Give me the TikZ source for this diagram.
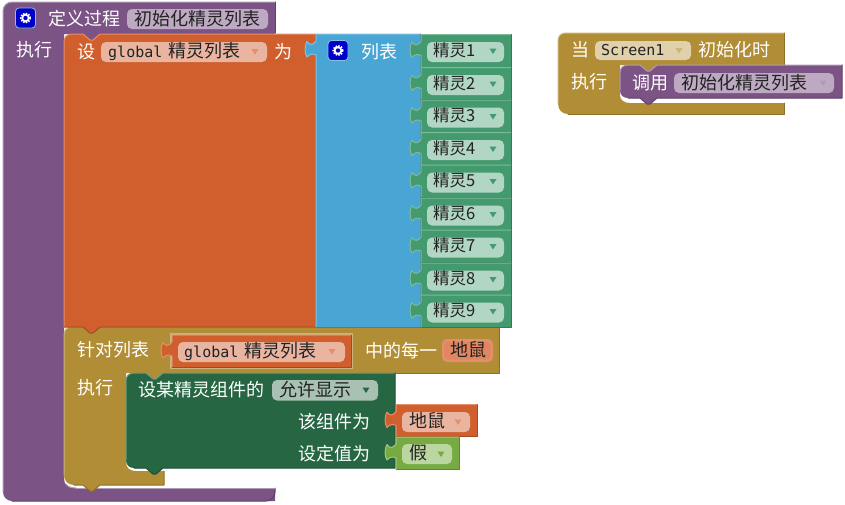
\documentclass[tikz,border=0pt]{standalone}
\usepackage{fontspec}
\setmainfont{Noto Sans CJK SC}
\newfontfamily\latf{DejaVu Sans Mono}
\definecolor{pu}{HTML}{7C5385}\definecolor{puL}{HTML}{B09BB6}\definecolor{puD}{HTML}{5F3F66}\definecolor{puF}{HTML}{BDA9C2}
\definecolor{or}{HTML}{D05F2D}\definecolor{orL}{HTML}{E38E6C}\definecolor{orD}{HTML}{A34A22}\definecolor{orF}{HTML}{E9B5A0}
\definecolor{bl}{HTML}{49A6D4}\definecolor{blL}{HTML}{7FC2E3}\definecolor{blD}{HTML}{3985AA}
\definecolor{sg}{HTML}{439A6E}\definecolor{sgL}{HTML}{7DBA9A}\definecolor{sgD}{HTML}{337A56}\definecolor{sgF}{HTML}{B2D6C4}
\definecolor{go}{HTML}{B18E35}\definecolor{goL}{HTML}{CCB57C}\definecolor{goD}{HTML}{8D712A}\definecolor{goF}{HTML}{E0D1AC}
\definecolor{dg}{HTML}{266643}\definecolor{dgL}{HTML}{6B9A80}\definecolor{dgD}{HTML}{1C4E33}\definecolor{dgF}{HTML}{A8C1B3}
\definecolor{bo}{HTML}{77AB41}\definecolor{boL}{HTML}{A3C77F}\definecolor{boD}{HTML}{5E8933}\definecolor{boF}{HTML}{BBD6A0}
\definecolor{ink}{HTML}{222222}\definecolor{gearblue}{HTML}{0000C8}
\tikzset{
 lbl/.style={inner sep=0pt,anchor=west,yshift=-.7pt,font=\fontsize{18}{18}\selectfont,text=white},
 fld/.style={inner sep=0pt,anchor=west,font=\fontsize{18}{18}\selectfont,text=ink},
 spr/.style={inner sep=0pt,anchor=west,font=\fontsize{16.5}{18}\selectfont,text=ink},
 ln/.style={line width=1pt,line cap=round,line join=round}
}
\def\tabseg#1#2{-- (#1,#2+7) .. controls (#1-3,#2+11) and (#1-6,#2+12) .. (#1-9,#2+7.5) .. controls (#1-11.5,#2+11) and (#1-11.5,#2+20) .. (#1-9,#2+23) .. controls (#1-6,#2+19.5) and (#1-3,#2+19.5) .. (#1,#2+21)}
\def\tabback#1#2{-- (#1,#2+21) .. controls (#1-3,#2+19.5) and (#1-6,#2+19.5) .. (#1-9,#2+23) .. controls (#1-11.5,#2+20) and (#1-11.5,#2+11) .. (#1-9,#2+7.5) .. controls (#1-6,#2+12) and (#1-3,#2+11) .. (#1,#2+7)}
\def\notchtop#1#2{-- (#1,#2) -- (#1+7,#2+6) -- (#1+10,#2+6) -- (#1+17,#2)}
\def\notchbot#1#2{-- (#1+17,#2) -- (#1+10,#2+6) -- (#1+7,#2+6) -- (#1,#2)}
% value block: x1 y1 x2 y2 base
\newcommand\valblk[5]{%
 \fill[#5] (#1,#2) \tabseg{#1}{#2} -- (#1,#4) -- (#3,#4) -- (#3,#2) -- cycle;
 \draw[ln,#5L] (#1,#4) \tabback{#1}{#2} -- (#1,#2) -- (#3,#2);
 \draw[ln,#5D] (#3,#2) -- (#3,#4) -- (#1,#4);
}
\newcommand\fieldr[5]{\fill[#5,rounded corners=5pt] (#1,#2) rectangle (#3,#4);}
\newcommand\tri[3]{\fill[#3] (#1-3.5,#2-2.5) -- (#1+3.5,#2-2.5) -- (#1,#2+3) -- cycle;}
\newcommand\gearicon[2]{%
 \fill[gearblue,draw=blL,line width=.8pt,rounded corners=3.5pt] (#1-10,#2-10) rectangle (#1+10,#2+10);
 \draw[white,line width=1.6pt,dash pattern=on 1.5pt off 1.3pt] (#1,#2) circle[radius=4.8pt];
 \fill[white] (#1,#2) circle[radius=4.3pt];
 \fill[gearblue] (#1,#2) circle[radius=2.2pt];
}
\begin{document}
\begin{tikzpicture}[x=1pt,y=-1pt]
\useasboundingbox (0,0) rectangle (845,504);
\fill[white] (0,0) rectangle (845,504);
% ---------- procedure block
\fill[pu,rounded corners=9pt] (3,100) -- (3,2) [sharp corners] -- (275,2) -- (275,34) -- (64,34) -- (64,476) [rounded corners=9pt] -- (64,488) [sharp corners] -- (275,488) -- (275,501) [rounded corners=9pt] -- (3,501) -- cycle;
\fill[pu] (83,33) rectangle (100,41);
\draw[ln,puL,rounded corners=9pt] (3,492) -- (3,2) [sharp corners] -- (275,2);
\draw[ln,puD] (275,2) -- (275,33);
\draw[ln,puL] (66,484) .. controls (68,487) and (72,488) .. (76,488);
\draw[ln,puD,rounded corners=9pt] (275,488) -- (275,501) -- (12,501);
\draw[ln,puL] (76,488) -- (275,488);
% ---------- foreach block
\fill[go] (72,327) \notchtop{83}{327} -- (499,327) -- (499,373) -- (126,373) -- (126,462) .. controls (126,468) and (130,471) .. (136,471) -- (164,471) -- (164,485) \notchbot{83}{485} -- (74,485) .. controls (68,485) and (64,481) .. (64,475) -- (64,335) .. controls (64,330) and (67,327) .. (72,327) -- cycle;
\fill[go] (146,372) rectangle (163,380);
\draw[ln,goL] (64,475) -- (64,335) .. controls (64,330) and (67,327) .. (72,327) -- (499,327);
\draw[ln,goD] (499,327) -- (499,373) -- (395,373);
\draw[ln,goD] (164,471) -- (164,485) \notchbot{83}{485} -- (74,485);
% ---------- set block
\fill[or] (64,42) .. controls (64,37) and (67,34) .. (72,34) \notchtop{83}{34} -- (316,34) -- (316,327) \notchbot{83}{327} -- (64,327) -- cycle;
\draw[ln,orL] (64,327) -- (64,42) .. controls (64,37) and (67,34) .. (72,34) \notchtop{83}{34} -- (316,34);
\draw[ln,orD] (316,327) \notchbot{83}{327} -- (64,327);
\node[lbl] (defT) at (48,18) {定义过程};
\fieldr{127}{9}{268}{29}{puF}
\node[fld] (defN) at (134,18.5) {初始化精灵列表};
\gearicon{25.5}{18}
\node[lbl] (exec1) at (16,49) {执行};
\node[lbl] (setT) at (77,51) {设};
\fieldr{101}{42}{267}{62}{orF}
\node[fld] (setV) at (108,51.5) {\latf\fontsize{15}{18}\selectfont global\hspace{6pt}\rmfamily\fontsize{18}{18}\selectfont 精灵列表};
\tri{255}{51.5}{orL}
\node[lbl] (setW) at (274,51) {为};
% ---------- list block
\valblk{316}{34}{420}{327}{bl}
\gearicon{338}{50.5}
\node[lbl] (listT) at (361,51) {列表};
% ---------- sprite blocks
\foreach \i/\yt/\yb in {1/34.5/67,2/67.5/99.5,3/100/132.5,4/132.5/165,5/165/197.5,6/198/230,7/230/262.5,8/263/295,9/295/327}{
 \valblk{421}{\yt}{511}{\yb}{sg}
 \fieldr{427}{\yt+7.5}{504}{\yt+27.5}{sgF}
 \node[spr] (spr\i) at (433,\yt+15.7) {精灵\i};
 \tri{493}{\yt+16.5}{sg}
}
% ---------- foreach content
\node[lbl] (forT) at (77,349) {针对列表};
\node[lbl] (exec2) at (77,387) {执行};
\fill[goL] (170,333) rectangle (353,369);
\valblk{172}{335}{351}{367}{or}
\fieldr{178}{342}{345}{362}{orF}
\node[fld] (forV) at (184,351.5) {\latf\fontsize{15}{18}\selectfont global\hspace{6pt}\rmfamily\fontsize{18}{18}\selectfont 精灵列表};
\tri{332}{351.5}{orL}
\node[lbl] (eachT) at (365,350) {中的每一};
\fieldr{442}{339}{493}{362}{orL}
\fill[orL!85!or,rounded corners=4pt] (444.5,341.5) rectangle (490.5,359.5);
\node[fld] (mouse1) at (450,350) {地鼠};
% ---------- component setter
\fill[dg] (134,373) \notchtop{146}{373} -- (395,373) -- (395,468) \notchbot{146}{468} -- (134,468) .. controls (129,468) and (126,465) .. (126,460) -- (126,381) .. controls (126,376) and (129,373) .. (134,373) -- cycle;
\draw[ln,dgL] (126,460) -- (126,381) .. controls (126,376) and (129,373) .. (134,373) \notchtop{146}{373} -- (395,373);
\draw[ln,dgD] (395,373) -- (395,468) \notchbot{146}{468} -- (134,468);
\node[lbl] (compT) at (138,389) {设某精灵组件的};
\fieldr{272}{380}{378}{400.5}{dgF}
\node[fld] (compF) at (279,390) {允许显示};
\tri{366}{390}{dg}
\node[lbl] (compA) at (298,421) {该组件为};
\node[lbl] (compB) at (298,453) {设定值为};
\valblk{396}{404.5}{477}{436.5}{or}
\fieldr{402}{412}{470}{432}{orF}
\node[fld] (mouse2) at (409,421) {地鼠};
\tri{458}{422}{orL}
\valblk{396}{437}{459}{469}{bo}
\fieldr{402}{444}{452}{464}{boF}
\node[fld] (falseV) at (409,453) {假};
\tri{441}{454}{bo}
% ---------- screen init event
\fill[go] (558,103) -- (558,41) .. controls (558,36) and (561,33) .. (566,33) -- (784,33) -- (784,65) -- (620,65) -- (620,95) .. controls (620,100) and (624,103) .. (630,103) -- (784,103) -- (784,114) -- (568,114) .. controls (562,114) and (558,110) .. (558,103) -- cycle;
\fill[go] (640,64) rectangle (657,72);
\draw[ln,goL] (558,103) -- (558,41) .. controls (558,36) and (561,33) .. (566,33) -- (784,33);
\draw[ln,goD] (784,103) -- (784,114) -- (568,114);
\draw[ln,goD] (784,33) -- (784,65);
\fill[pu] (628,65) \notchtop{640}{65} -- (842,65) -- (842,98) \notchbot{640}{98} -- (628,98) .. controls (623,98) and (620,95) .. (620,90) -- (620,73) .. controls (620,68) and (623,65) .. (628,65) -- cycle;
\draw[ln,puL] (620,90) -- (620,73) .. controls (620,68) and (623,65) .. (628,65) \notchtop{640}{65} -- (842,65);
\draw[ln,puD] (842,65) -- (842,98) \notchbot{640}{98} -- (628,98);
\node[lbl] (whenT) at (571,49) {当};
\fieldr{595}{41}{691}{60}{goF}
\node[fld] (screenV) at (601,50) {\latf\fontsize{15}{18}\selectfont Screen1};
\tri{679}{50.5}{goL}
\node[lbl] (initT) at (698,49) {初始化时};
\node[lbl] (exec3) at (571,81) {执行};
\node[lbl] (callT) at (632,82) {调用};
\fieldr{674}{73}{834}{93}{puF}
\node[fld] (callV) at (681,82.5) {初始化精灵列表};
\tri{823}{83}{puL}
\end{tikzpicture}
\end{document}
